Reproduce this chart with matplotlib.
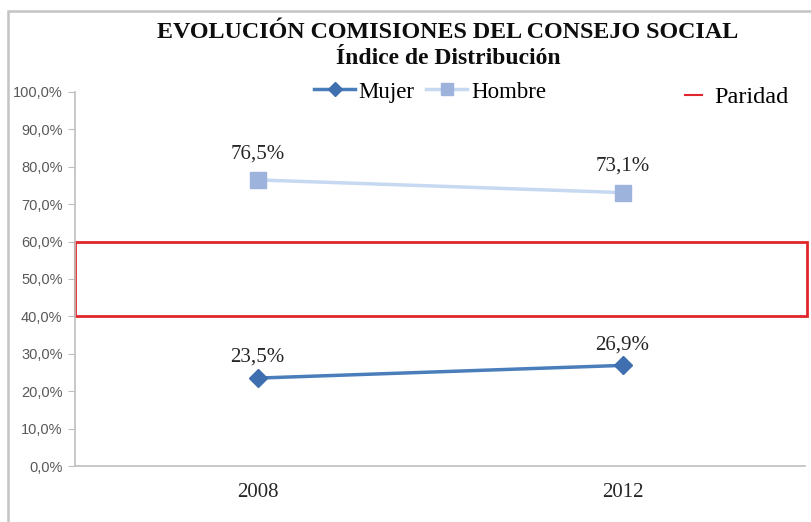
import matplotlib.pyplot as plt
from matplotlib.patches import Rectangle
from matplotlib.lines import Line2D
import matplotlib.transforms as mtransforms

years = ['2008', '2012']
mujer = [23.5, 26.9]
hombre = [76.5, 73.1]
paridad = (40.0, 60.0)
yticks = [0, 10, 20, 30, 40, 50, 60, 70, 80, 90, 100]

serif = 'Liberation Serif'

fig = plt.figure(figsize=(8.11, 5.22), dpi=100)
ax = fig.add_axes([75 / 811, 1 - 466 / 522, 730 / 811, 374 / 522])

# outer chart frame
fig.add_artist(Rectangle((8 / 811, -0.1), 1.2, 1 - 11 / 522 + 0.1, transform=fig.transFigure,
                         fill=False, edgecolor='#c4c4c4', linewidth=1.8))

x = range(len(years))
ax.plot(x, hombre, color='#c6d9f1', linewidth=2.5, marker='s', markersize=11,
        markerfacecolor='#9db3dc', markeredgecolor='#9db3dc', zorder=3)
ax.plot(x, mujer, color='#4a7ebb', linewidth=2.5, marker='D', markersize=9,
        markerfacecolor='#3f6fae', markeredgecolor='#3f6fae', zorder=3)

for i, v in enumerate(hombre):
    ax.annotate(f'{v:.1f}%'.replace('.', ','), (i, v), xytext=(0, 12), textcoords='offset points',
                ha='center', va='bottom', fontsize=15, family=serif, color='#262626')
for i, v in enumerate(mujer):
    ax.annotate(f'{v:.1f}%'.replace('.', ','), (i, v), xytext=(0, 8), textcoords='offset points',
                ha='center', va='bottom', fontsize=15, family=serif, color='#262626')

# parity band
trans = mtransforms.blended_transform_factory(ax.transAxes, ax.transData)
ax.add_patch(Rectangle((0, paridad[0]), 1.003, paridad[1] - paridad[0], transform=trans,
                       fill=False, edgecolor='#e0262b', linewidth=2, clip_on=False, zorder=2))

ax.set_xlim(-0.5, 1.5)
ax.set_ylim(0, 100)
ax.set_yticks(yticks)
ax.set_yticklabels([f'{t:.1f}%'.replace('.', ',') for t in yticks])
ax.set_xticks(list(x))
ax.set_xticklabels(years, family=serif, fontsize=15, color='#262626')
ax.tick_params(axis='x', length=0, pad=12)
ax.tick_params(axis='y', length=5, color='#bfbfbf', labelsize=10.5, labelcolor='#595959', pad=4)
for lab in ax.get_yticklabels():
    lab.set_family('Liberation Sans')
for s in ['top', 'right']:
    ax.spines[s].set_visible(False)
for s in ['left', 'bottom']:
    ax.spines[s].set_color('#bfbfbf')
    ax.spines[s].set_linewidth(1.2)

fig.text(448 / 811, 1 - 32 / 522, 'EVOLUCIÓN COMISIONES DEL CONSEJO SOCIAL', ha='center', va='center',
         family=serif, fontweight='bold', fontsize=17.3, color='#0d0d0d')
fig.text(448 / 811, 1 - 59 / 522, 'Índice de Distribución', ha='center', va='center',
         family=serif, fontweight='bold', fontsize=17, color='#0d0d0d')

handles = [Line2D([], [], color='#4a7ebb', linewidth=2.5, marker='D', markersize=7,
                  markerfacecolor='#3f6fae', markeredgecolor='#3f6fae'),
           Line2D([], [], color='#c6d9f1', linewidth=2.5, marker='s', markersize=9,
                  markerfacecolor='#9db3dc', markeredgecolor='#9db3dc')]
fig.legend(handles, ['Mujer', 'Hombre'], loc='center', bbox_to_anchor=(430 / 811, 1 - 92 / 522),
           ncol=2, frameon=False, prop={'family': serif, 'size': 16.5}, handlelength=1.8,
           handletextpad=0.15, columnspacing=0.5)
fig.legend([Line2D([], [], color='#e0262b', linewidth=1.5)], ['Paridad'], loc='center',
           bbox_to_anchor=(737 / 811, 1 - 97 / 522), frameon=False,
           prop={'family': serif, 'size': 17.5}, handlelength=0.7, handletextpad=0.5)

fig.savefig('out.png', dpi=100)
